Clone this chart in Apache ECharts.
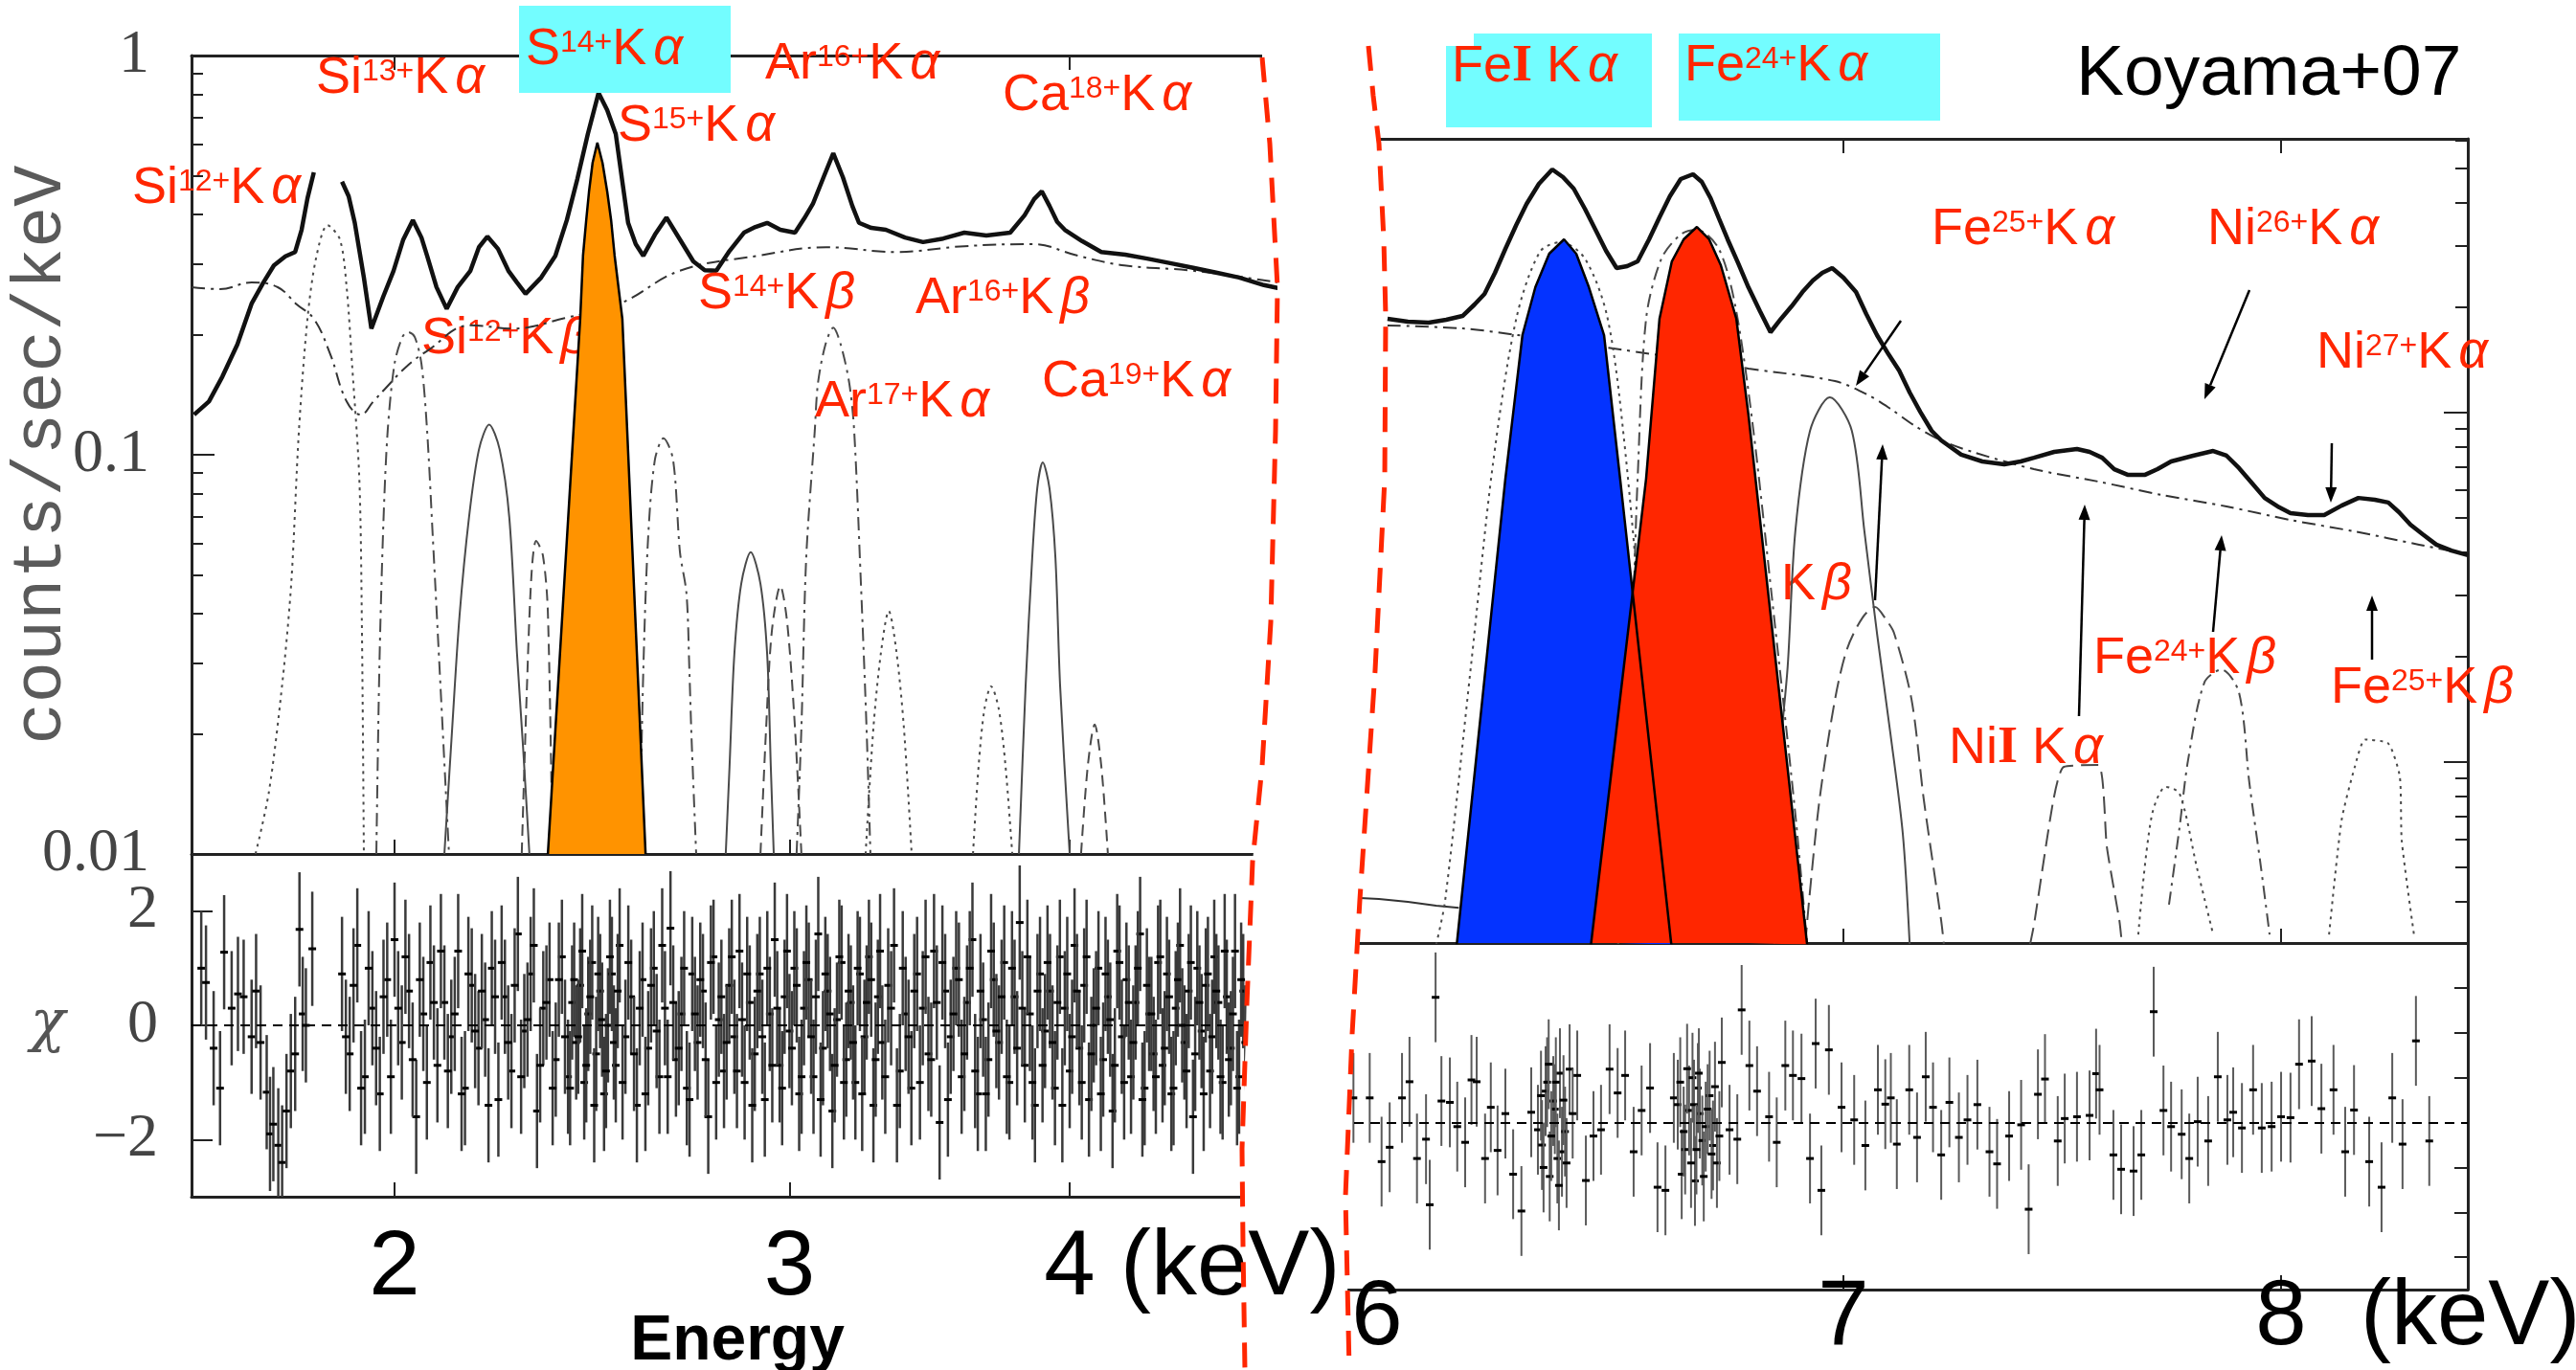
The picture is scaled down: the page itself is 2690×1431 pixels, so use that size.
<!DOCTYPE html>
<html><head><meta charset="utf-8">
<script src="https://cdn.jsdelivr.net/npm/echarts@6/dist/echarts.min.js"></script>
<style>html,body{margin:0;padding:0;background:#fff}#c{width:2690px;height:1431px}</style>
</head><body><div id="c"></div>
<script>
// ---------------- DATA (energy keV, counts/sec/keV) ----------------
const leftXTicks = [2, 3, 4];
const rightXTicks = [7, 8];
const leftYMajor = [0.01, 0.1, 1];
const leftYMinor = [0.02,0.03,0.04,0.05,0.06,0.07,0.08,0.09,0.2,0.3,0.4,0.5,0.6,0.7,0.8,0.9];
const rightYMajor = [0.01, 0.1];
const rightYMinor = [0.004,0.005,0.006,0.007,0.008,0.009,0.02,0.03,0.04,0.05,0.06,0.07,0.08,0.09,0.2,0.3,0.4,0.5,0.6];
const leftResTicks = [-2, 0, 2];
const rightResTicks = [-3, -2, -1, 1, 2, 3];

const leftSpectrum = [[1.628,0.126],[1.653,0.136],[1.676,0.157],[1.702,0.189],[1.727,0.239],[1.748,0.270],[1.767,0.298],[1.788,0.314],[1.806,0.322],[1.818,0.366],[1.829,0.439],[1.841,0.510],[1.868,null],[1.895,0.483],[1.908,0.444],[1.920,0.381],[1.938,0.278],[1.953,0.207],[1.977,0.249],[1.998,0.289],[2.018,0.346],[2.038,0.387],[2.056,0.350],[2.068,0.315],[2.088,0.263],[2.110,0.232],[2.134,0.263],[2.162,0.289],[2.181,0.331],[2.200,0.352],[2.224,0.328],[2.248,0.289],[2.268,0.270],[2.288,0.253],[2.325,0.278],[2.359,0.315],[2.387,0.387],[2.413,0.491],[2.439,0.636],[2.466,0.806],[2.488,0.730],[2.510,0.636],[2.527,0.483],[2.542,0.381],[2.562,0.337],[2.582,0.315],[2.613,0.356],[2.644,0.393],[2.681,0.346],[2.718,0.305],[2.750,0.290],[2.783,0.289],[2.821,0.324],[2.863,0.360],[2.897,0.372],[2.932,0.381],[2.972,0.366],[3.017,0.360],[3.046,0.391],[3.073,0.425],[3.107,0.496],[3.138,0.569],[3.169,0.496],[3.200,0.420],[3.222,0.381],[3.263,0.370],[3.312,0.366],[3.378,0.350],[3.441,0.341],[3.513,0.348],[3.590,0.360],[3.672,0.354],[3.763,0.360],[3.819,0.398],[3.857,0.437],[3.887,0.457],[3.918,0.420],[3.949,0.383],[3.980,0.366],[4.051,0.343],[4.132,0.322],[4.235,0.317],[4.331,0.310],[4.435,0.302],[4.541,0.294],[4.649,0.286],[4.760,0.278],[4.883,0.266],[4.980,0.260]];
const leftContinuum = [[1.624,0.2628],[1.672,0.2599],[1.727,0.2702],[1.774,0.2628],[1.809,0.238],[1.841,0.219],[1.872,0.179],[1.904,0.136],[1.932,0.126],[1.957,0.136],[1.980,0.146],[2.024,0.166],[2.068,0.182],[2.162,0.211],[2.259,0.207],[2.382,0.220],[2.520,0.239],[2.681,0.289],[2.903,0.315],[3.116,0.331],[3.345,0.322],[3.590,0.333],[3.849,0.337],[4.035,0.315],[4.231,0.298],[4.541,0.289],[4.980,0.269]];
const siXIIIKa = [[1.734,0.010],[1.758,0.0143],[1.783,0.0273],[1.799,0.0482],[1.813,0.115],[1.829,0.219],[1.845,0.310],[1.867,0.376],[1.891,0.346],[1.904,0.263],[1.915,0.166],[1.929,0.087],[1.934,0.038],[1.938,0.010]];
const siXIVKa = [[1.963,0.010],[1.969,0.0289],[1.977,0.0661],[1.986,0.115],[2.000,0.169],[2.016,0.197],[2.028,0.203],[2.042,0.197],[2.056,0.169],[2.068,0.115],[2.080,0.0626],[2.097,0.0258],[2.115,0.010]];
const siXIIIKb = [[2.105,0.010],[2.122,0.0207],[2.138,0.0395],[2.159,0.0698],[2.181,0.103],[2.204,0.119],[2.228,0.103],[2.250,0.0698],[2.268,0.0317],[2.282,0.0186],[2.297,0.010]];
const siXIVKb = [[2.279,0.010],[2.291,0.0258],[2.302,0.0502],[2.313,0.0608],[2.329,0.0560],[2.341,0.0402],[2.352,0.010]];
const sXVKa = [[2.341,0.0100],[2.420,0.2190],[2.427,0.3154],[2.435,0.3869],[2.442,0.4565],[2.451,0.5388],[2.463,0.6050],[2.476,0.5388],[2.488,0.4565],[2.498,0.3869],[2.507,0.3154],[2.527,0.2190],[2.588,0.0100]];
const sXVIKa = [[2.572,0.010],[2.582,0.0289],[2.595,0.0626],[2.613,0.0973],[2.636,0.110],[2.662,0.0973],[2.681,0.0570],[2.699,0.0449],[2.707,0.0289],[2.713,0.0196],[2.726,0.010]];
const sXVKb = [[2.810,0.010],[2.821,0.0166],[2.835,0.0317],[2.855,0.0475],[2.883,0.0570],[2.912,0.0475],[2.932,0.0317],[2.943,0.0166],[2.952,0.010]];
const sXVIKb = [[2.912,0.010],[2.929,0.0207],[2.946,0.0360],[2.972,0.0469],[2.993,0.0380],[3.017,0.0207],[3.037,0.010]];
const arXVIIKa = [[3.022,0.010],[3.037,0.0207],[3.052,0.0551],[3.079,0.115],[3.089,0.151],[3.113,0.189],[3.138,0.208],[3.162,0.189],[3.190,0.151],[3.206,0.115],[3.228,0.0482],[3.247,0.0207],[3.260,0.010]];
const arXVIIIKa = [[3.244,0.010],[3.270,0.0207],[3.296,0.0322],[3.322,0.0406],[3.348,0.0322],[3.374,0.0207],[3.401,0.010]];
const arXVIIKb = [[3.622,0.010],[3.643,0.0166],[3.665,0.0231],[3.690,0.0263],[3.719,0.0231],[3.745,0.0166],[3.771,0.010]];
const caXIXKa = [[3.797,0.010],[3.823,0.0263],[3.849,0.0551],[3.869,0.0824],[3.891,0.0957],[3.918,0.0824],[3.942,0.0551],[3.961,0.0263],[4.000,0.010]];
const caXXKa = [[4.047,0.010],[4.075,0.0166],[4.104,0.0211],[4.132,0.0166],[4.160,0.010]];

const rightSpectrum = [[6.091,0.1856],[6.129,0.1821],[6.168,0.1809],[6.201,0.1844],[6.232,0.1891],[6.255,0.2040],[6.274,0.2186],[6.294,0.2512],[6.314,0.2941],[6.335,0.3444],[6.355,0.3956],[6.379,0.4517],[6.405,0.4965],[6.426,0.4721],[6.447,0.4376],[6.469,0.3834],[6.490,0.3337],[6.511,0.2904],[6.532,0.2592],[6.553,0.2625],[6.574,0.2709],[6.597,0.3132],[6.618,0.3622],[6.639,0.4161],[6.661,0.4661],[6.686,0.4811],[6.704,0.4574],[6.722,0.4109],[6.739,0.3599],[6.757,0.3133],[6.779,0.2675],[6.800,0.2285],[6.824,0.1952],[6.846,0.1699],[6.868,0.1856],[6.890,0.2014],[6.913,0.2214],[6.935,0.2388],[6.955,0.2512],[6.976,0.2592],[7.000,0.2434],[7.027,0.2214],[7.049,0.1915],[7.072,0.1667],[7.097,0.1469],[7.120,0.1320],[7.143,0.1142],[7.166,0.1006],[7.191,0.0887],[7.212,0.0833],[7.256,0.0758],[7.303,0.0725],[7.352,0.0711],[7.389,0.0725],[7.419,0.0743],[7.465,0.0772],[7.517,0.0787],[7.546,0.0772],[7.575,0.0743],[7.603,0.0689],[7.634,0.0664],[7.675,0.0664],[7.704,0.0689],[7.736,0.0725],[7.788,0.0753],[7.836,0.0777],[7.868,0.0753],[7.898,0.0694],[7.930,0.0627],[7.960,0.0570],[7.995,0.0536],[8.023,0.0516],[8.066,0.0509],[8.106,0.0509],[8.149,0.0542],[8.191,0.0570],[8.232,0.0563],[8.266,0.0553],[8.293,0.0519],[8.322,0.0478],[8.353,0.0449],[8.388,0.0419],[8.427,0.0403],[8.469,0.0391]];
const rightContinuum = [[6.091,0.1776],[6.232,0.1742],[6.338,0.1667],[6.539,0.1516],[6.670,0.1424],[6.800,0.1337],[6.982,0.1231],[7.051,0.1127],[7.101,0.1026],[7.155,0.0915],[7.212,0.0833],[7.281,0.0772],[7.419,0.0689],[7.566,0.0635],[7.715,0.0581],[7.868,0.0539],[8.023,0.0493],[8.182,0.0457],[8.344,0.0419],[8.469,0.0393]];
const feIKa = [[6.221,0.00300],[6.314,0.0647],[6.347,0.1667],[6.372,0.2285],[6.399,0.2850],[6.428,0.3133],[6.452,0.2850],[6.477,0.2285],[6.507,0.1667],[6.539,0.0647],[6.642,0.00300]];
const feXXVKa = [[6.481,0.00300],[6.591,0.0647],[6.618,0.1856],[6.643,0.2709],[6.667,0.3133],[6.694,0.3400],[6.719,0.3133],[6.743,0.2642],[6.775,0.1856],[6.800,0.0987],[6.923,0.00300]];
const feIKaModel = [[6.182,0.00300],[6.199,0.00401],[6.248,0.0188],[6.290,0.0711],[6.335,0.1856],[6.381,0.2886],[6.422,0.3074],[6.469,0.2761],[6.513,0.1891],[6.545,0.0887],[6.578,0.0251],[6.602,0.00300]];
const feXXVKaModel = [[6.535,0.00300],[6.555,0.00975],[6.566,0.0294],[6.574,0.0647],[6.591,0.1856],[6.622,0.2761],[6.661,0.3233],[6.694,0.3337],[6.739,0.2941],[6.773,0.2014],[6.808,0.0945],[6.848,0.0304],[6.898,0.00711],[6.923,0.00300]];
const feXXVIKa = [[6.854,0.00300],[6.864,0.00969],[6.882,0.0188],[6.898,0.0457],[6.929,0.0887],[6.971,0.1106],[7.018,0.0887],[7.045,0.0457],[7.072,0.0234],[7.101,0.0121],[7.128,0.00623],[7.143,0.00300]];
const feIKb = [[6.919,0.00300],[6.927,0.00401],[6.949,0.00777],[6.982,0.0151],[7.008,0.0211],[7.041,0.0259],[7.068,0.0278],[7.093,0.0254],[7.109,0.0234],[7.147,0.0151],[7.174,0.00777],[7.212,0.00351],[7.218,0.00300]];
const niIKa = [[7.410,0.00300],[7.419,0.00342],[7.463,0.00777],[7.487,0.00969],[7.566,0.00981],[7.586,0.00570],[7.615,0.00351],[7.621,0.00300]];
const niXXVIIKa = [[7.659,0.00321],[7.690,0.00698],[7.724,0.00849],[7.756,0.00812],[7.797,0.00500],[7.836,0.00321]];
const feXXVKb = [[7.731,0.00391],[7.756,0.00651],[7.776,0.0101],[7.815,0.0169],[7.856,0.0184],[7.898,0.0158],[7.923,0.00871],[7.951,0.00500],[7.972,0.00321]];
const feXXVIKb = [[8.118,0.00321],[8.149,0.00681],[8.182,0.00969],[8.208,0.0116],[8.266,0.0113],[8.295,0.0091],[8.300,0.00596],[8.331,0.00321]];
const lowTail = [[6.005,0.00411],[6.075,0.00406],[6.129,0.00398],[6.182,0.00388],[6.225,0.00383]];

// residuals (energy keV, chi)
const leftResiduals = [[1.640,1.0],[1.648,0.75],[1.661,-0.4],[1.672,-1.1],[1.679,1.28],[1.692,0.3],[1.703,0.55],[1.713,0.5],[1.727,-0.2],[1.735,0.6],[1.743,-0.3],[1.754,-1.17],[1.760,-1.9],[1.766,-1.73],[1.775,-2.1],[1.782,-2.4],[1.790,-1.5],[1.798,-0.8],[1.806,-0.5],[1.814,1.68],[1.820,0.2],[1.826,0.0],[1.838,1.34],
[1.895,0.9],[1.91,-0.5],[1.925,1.4],[1.94,-0.9],[1.955,0.3],[1.97,-1.2],[1.985,0.8],[2.00,1.5],[2.015,-0.3],[2.03,0.6],[2.045,-1.6],[2.06,0.2],[2.075,1.1],[2.09,-0.7],[2.105,0.4],[2.12,-0.2],[2.135,1.3],[2.15,-1.1],[2.165,0.7],[2.18,-0.4],[2.195,0.1],[2.21,1.0],[2.225,-1.3],[2.24,0.5],[2.255,-0.8],[2.27,1.6],[2.285,-0.1],[2.30,0.9],[2.315,-1.5],[2.33,0.3],[2.345,0.8],[2.36,-0.6],[2.375,1.2],[2.39,-0.9],[2.40,0.4],[2.41,-0.3],[2.42,0.7],[2.43,-1.0],[2.44,0.2],[2.45,1.1],[2.46,-0.5],[2.47,0.6],[2.48,-1.2],[2.49,0.0],[2.50,0.9],[2.51,-0.7],[2.52,1.4],[2.535,-0.2],[2.55,0.5],[2.565,-1.4],[2.58,0.8],[2.595,-0.4],[2.61,1.0],[2.625,-0.9],[2.64,0.3],[2.655,1.7],[2.67,-0.6],[2.685,0.2],[2.70,-1.1],[2.715,0.9],[2.73,-0.3],[2.745,0.6],[2.76,-1.6],[2.775,1.2],[2.79,0.1],[2.805,-0.8],[2.82,0.7],[2.835,-0.2],[2.85,1.3],[2.865,-1.0],[2.88,0.4],[2.895,-0.5],[2.91,0.9],[2.925,-1.3],[2.94,0.2],[2.955,1.5],[2.97,-0.7],[2.985,0.5],[3.00,-0.1],[3.015,1.0],[3.03,-1.2],[3.045,0.3],[3.06,0.8],[3.075,-0.9],[3.09,1.6],[3.105,-0.4],[3.12,0.6],[3.135,-1.5],[3.15,0.1],[3.165,1.1],[3.18,-0.6],[3.195,0.4],[3.21,-1.0],[3.225,0.9],[3.24,-0.2],[3.255,1.2],[3.27,-1.4],[3.285,0.5],[3.30,-0.3],[3.32,0.7],[3.34,1.4],[3.36,-0.8],[3.38,0.2],[3.40,-1.1],[3.42,0.9],[3.44,0.3],[3.46,-0.5],[3.48,1.3],[3.50,-1.7],[3.52,0.6],[3.54,-0.2],[3.56,1.0],[3.58,-0.9],[3.60,0.4],[3.62,1.5],[3.64,-1.2],[3.66,0.1],[3.68,-0.6],[3.70,0.8],[3.72,-0.3],[3.74,1.1],[3.76,-1.0],[3.78,0.5],[3.80,1.8],[3.82,-0.7],[3.84,0.2],[3.86,-1.4],[3.88,0.9],[3.90,-0.1],[3.92,0.6],[3.94,-1.1],[3.96,1.2],[3.98,0.3],[4.00,-0.8],[4.02,1.4],[4.04,-0.4],[4.06,0.7],[4.08,-1.3],[4.10,0.0],[4.12,1.0],[4.14,-0.6],[4.16,0.5],[4.18,-1.5],[4.20,1.3],[4.22,-0.2],[4.24,0.8],[4.26,-0.9],[4.28,0.4],[4.30,1.6],[4.32,-1.1],[4.34,0.2],[4.36,-0.5],[4.38,1.1],[4.40,-0.7],[4.42,0.9],[4.44,-1.2],[4.46,0.3],[4.48,1.4],[4.50,-0.3],[4.52,0.6],[4.54,-1.6],[4.56,1.0],[4.58,-0.1],[4.60,0.7],[4.62,-0.8],[4.64,1.2],[4.66,0.4],[4.68,-1.0],[4.70,0.5],[4.72,-0.4],[4.74,1.3],[4.76,-0.9],[4.78,0.6],
[1.9025,-0.2],[1.9175,0.7],[1.9325,-1.1],[1.9475,1.0],[1.9625,-0.4],[1.9775,0.5],[1.9925,-0.9],[2.0075,0.3],[2.0225,1.2],[2.0375,-0.6],[2.0525,0.8],[2.0675,-1.0],[2.0825,0.4],[2.0975,1.3],[2.1125,-0.8],[2.1275,0.2],[2.1425,-1.2],[2.1575,0.9],[2.1725,-0.1],[2.1875,0.6],[2.2025,-1.4],[2.2175,0.5],[2.2325,1.1],[2.2475,-0.3],[2.2625,0.7],[2.2775,-0.9],[2.2925,0.1],[2.3075,1.4],[2.3225,-0.7],[2.3375,0.4],[2.3525,-1.1],[2.3675,0.8],[2.3825,-0.2],
[2.395,-1.1],[2.405,0.8],[2.415,-0.2],[2.425,1.3],[2.435,-0.7],[2.445,0.5],[2.455,-1.4],[2.465,0.9],[2.475,0.1],[2.485,-0.8],[2.495,1.2],[2.505,-0.3],[2.515,0.6],[2.5275,-1.0],[2.5425,1.1],[2.5575,-0.5],[2.5725,0.3],[2.5875,-1.2],[2.6025,0.7],[2.6175,-0.1],[2.6325,1.4],[2.6475,-0.9],[2.6625,0.4],[2.6775,-0.4],[2.6925,1.0],[2.7075,-1.3],[2.7225,0.2],[2.7375,0.8],[2.7525,-0.6],[2.7675,1.1],[2.7825,-1.0],[2.7975,0.5],[2.8125,-0.3],[2.8275,1.2],[2.8425,-0.8],[2.8575,0.1],[2.8725,0.9],[2.8875,-1.4],[2.9025,0.6],[2.9175,-0.2],[2.9325,1.0],[2.9475,-0.7],[2.9625,0.3],[2.9775,-1.1],[2.9925,1.3],[3.0075,-0.4],[3.0225,0.7],[3.0375,-0.9],[3.0525,1.1],[3.0675,-0.2],[3.0825,0.5],[3.0975,-1.3],[3.1125,0.9],[3.1275,0.2],[3.1425,-0.7],[3.1575,1.2],[3.1725,-1.0],[3.1875,0.6],[3.2025,-0.3],[3.2175,1.0],[3.2325,-1.2],[3.2475,0.4],[3.2625,0.8],[3.2775,-0.6],[3.2925,1.3],[3.31,-0.9],[3.33,0.3],[3.35,-1.4],[3.37,1.0],[3.39,-0.2],[3.41,0.6],[3.43,-1.0],[3.45,1.2],[3.47,-0.6],[3.49,0.4],[3.51,1.1],[3.53,-1.3],[3.55,0.2],[3.57,0.8],[3.59,-0.5],[3.61,1.0],[3.63,-0.8],[3.65,0.6],[3.67,-1.2],[3.69,1.3],[3.71,-0.1],[3.73,0.5],[3.75,-0.9],[3.77,1.0],[3.79,-0.4],[3.81,0.3],[3.83,1.2],[3.85,-1.0],[3.87,0.6],[3.89,-0.7],[3.91,1.1],[3.93,-0.3],[3.95,0.4],[3.97,-1.4],[3.99,0.9],[4.01,-0.2],[4.03,0.6],[4.05,-1.0],[4.07,1.2],[4.09,-0.5],[4.11,0.3],[4.13,-1.2],[4.15,0.9],[4.17,0.1],[4.19,-0.7],[4.21,1.1],[4.23,-1.0],[4.25,0.4],[4.27,-0.3],[4.29,1.0],[4.31,-1.3],[4.33,0.7],[4.35,0.2],[4.37,-0.9],[4.39,1.2],[4.41,-0.4],[4.43,0.5],[4.45,-1.1],[4.47,0.8],[4.49,0.0],[4.51,-0.8],[4.53,1.1],[4.55,-0.5],[4.57,0.4],[4.59,-1.2],[4.61,0.9],[4.63,-0.2],[4.65,0.6],[4.67,-0.9],[4.69,1.3],[4.71,-0.6],[4.73,0.2],[4.75,-1.1],[4.77,0.8],[4.79,-0.3]];
const rightResiduals = [[6.028,0.55],[6.058,0.55],[6.080,-0.87],[6.095,-0.55],[6.118,0.55],[6.132,0.91],[6.146,-0.80],[6.163,-0.37],[6.170,-1.83],[6.181,2.79],[6.192,0.48],[6.208,0.45],[6.222,-0.09],[6.237,-0.44],[6.249,0.95],[6.259,0.91],[6.275,-0.80],[6.286,0.34],[6.299,-0.62],[6.314,0.20],[6.329,-1.15],[6.345,-1.97],[6.364,0.23],[6.377,-0.16],[6.385,-0.5],[6.392,0.70],[6.395,0.9],[6.400,-1.2],[6.407,0.48],[6.410,0.3],[6.415,-0.8],[6.420,1.1],[6.424,-0.65],[6.430,-0.2],[6.439,1.19],[6.454,1.05],[6.471,-1.29],[6.486,-0.30],[6.501,-0.16],[6.518,1.19],[6.534,0.66],[6.549,1.05],[6.566,-0.65],[6.582,0.27],[6.599,0.77],[6.614,-1.44],[6.630,-1.51],[6.647,0.55],[6.655,0.4],[6.663,-1.15],[6.670,-0.6],[6.678,0.27],[6.685,1.0],[6.690,-1.3],[6.696,0.77],[6.700,0.2],[6.705,-0.4],[6.712,-0.09],[6.720,0.6],[6.727,-0.51],[6.735,-0.9],[6.745,1.34],[6.761,-0.16],[6.777,-0.37],[6.786,2.51],[6.802,1.27],[6.818,0.70],[6.843,0.13],[6.859,-0.44],[6.877,1.27],[6.893,1.05],[6.911,0.98],[6.929,-0.80],[6.941,1.76],[6.953,-1.51],[6.969,1.62],[6.996,0.34],[7.023,0.06],[7.047,-0.51],[7.074,0.73],[7.090,0.41],[7.102,0.55],[7.115,-0.48],[7.142,0.73],[7.159,-0.33],[7.178,1.02],[7.194,0.34],[7.212,-0.72],[7.230,0.45],[7.251,-0.33],[7.270,0.06],[7.292,0.40],[7.319,-0.65],[7.336,-0.92],[7.363,-0.30],[7.390,-0.05],[7.407,-1.93],[7.428,0.63],[7.444,0.97],[7.473,-0.41],[7.489,0.09],[7.517,0.13],[7.546,0.16],[7.561,1.09],[7.569,0.73],[7.601,-0.72],[7.619,-1.04],[7.648,-1.08],[7.666,-0.72],[7.695,2.47],[7.718,0.27],[7.736,-0.09],[7.761,-0.26],[7.779,-0.80],[7.799,0.02],[7.824,-0.41],[7.847,1.02],[7.870,0.06],[7.884,0.23],[7.905,-0.12],[7.932,0.73],[7.953,-0.12],[7.977,-0.09],[8.000,0.13],[8.023,0.11],[8.044,1.30],[8.075,1.37],[8.099,0.31],[8.129,0.73],[8.158,-0.65],[8.180,0.28],[8.218,-0.87],[8.249,-1.44],[8.276,0.55],[8.302,-0.48],[8.336,1.82],[8.370,-0.41],
[6.383,0.6],[6.388,-1.0],[6.398,1.3],[6.403,-0.3],[6.412,0.9],[6.418,-1.4],[6.427,0.5],[6.433,-0.9],[6.445,0.2],[6.660,0.9],[6.667,-0.2],[6.674,1.2],[6.682,-0.9],[6.688,0.4],[6.693,-0.6],[6.698,1.1],[6.708,-1.2],[6.716,0.3],[6.724,-0.7],[6.731,0.8],[6.740,-0.3]];

// ---------------- helpers ----------------
const LOG = Math.log10;
const tr = arr => arr.map(p => [LOG(p[0]), p[1] == null ? '-' : LOG(p[1])]);
const trRes = arr => arr.map(p => [LOG(p[0]), p[1]]);
const AX = '#222';
const RED = '#ff2600';

// axis ranges (log10 space)
const LXMIN = 0.21051, LXMAX = 0.69727;
const RXMIN = 0.775944, RXMAX = 0.927829;
const RYMIN = -2.5178, RYMAX = -0.2164;

function xAx(grid, pos, min, max, ticks, extra) {
  return Object.assign({
    gridIndex: grid, type: 'value', position: pos, min, max,
    axisLine: { show: true, onZero: false, lineStyle: { color: AX, width: 3 } },
    axisTick: { show: true, inside: true, length: 15, customValues: ticks.map(LOG), lineStyle: { color: AX, width: 2 } },
    axisLabel: { show: false }, splitLine: { show: false }, nameMoveOverlap: false
  }, extra || {});
}
function yAx(grid, pos, min, max, ticks, len, showLine, extra) {
  return Object.assign({
    gridIndex: grid, type: 'value', position: pos, min, max,
    axisLine: { show: showLine, onZero: false, lineStyle: { color: AX, width: 3 } },
    axisTick: { show: true, inside: true, length: len, customValues: ticks, lineStyle: { color: AX, width: 2 } },
    axisLabel: { show: false }, splitLine: { show: false }, nameMoveOverlap: false
  }, extra || {});
}
function ln(data, xi, yi, color, width, type, smooth, z) {
  return { type: 'line', data: tr(data), xAxisIndex: xi, yAxisIndex: yi, symbol: 'none', showSymbol: false,
    smooth: smooth || false, connectNulls: false, silent: true, z: z || 2, clip: true,
    lineStyle: { color, width, type } };
}
function fill(data, xi, yi, color) {
  return { type: 'line', data: tr(data), xAxisIndex: xi, yAxisIndex: yi, symbol: 'none', showSymbol: false,
    smooth: false, silent: true, z: 4, clip: true,
    lineStyle: { color: '#000', width: 2.5 }, areaStyle: { color, opacity: 1, origin: 'start' } };
}
function makeErrBar(barColor, barWidth) {
  return function (params, api) {
    const x = api.value(0), y = api.value(1);
    const a = api.coord([x, y + 1]), b = api.coord([x, y - 1]), c = api.coord([x, y]);
    return { type: 'group', children: [
      { type: 'line', shape: { x1: a[0], y1: a[1], x2: b[0], y2: b[1] }, style: { stroke: barColor, lineWidth: barWidth } },
      { type: 'line', shape: { x1: c[0] - 4, y1: c[1], x2: c[0] + 4, y2: c[1] }, style: { stroke: '#000', lineWidth: 3 } }
    ]};
  };
}
const zeroLine = { silent: true, symbol: 'none', label: { show: false },
  lineStyle: { color: '#000', width: 2, type: [10, 7] }, data: [{ yAxis: 0 }] };

const DOT = [3, 5], DASH = [12, 7], DASHDOT = [14, 6, 3, 6], LDASH = [18, 8];
const CMP = '#4a4a4a';

// ---------------- graphic annotations ----------------
const RICH = {
  s: { fontSize: 32, fontFamily: 'Liberation Sans', fill: RED, verticalAlign: 'top', padding: [8, 0, 0, 0] },
  g: { fontSize: 54, fontFamily: 'Liberation Sans', fontStyle: 'italic', fill: RED, padding: [0, 0, 0, 7] },
  r: { fontSize: 54, fontFamily: 'Liberation Serif', fontWeight: 'bold', fill: RED }
};
function redLabel(text, x, y, z) {
  return { type: 'text', x, y, z: z == null ? 60 : z, silent: true,
    style: { text, fill: RED, fontSize: 54, fontFamily: 'Liberation Sans', lineHeight: 62,
      align: 'left', verticalAlign: 'top', textAlign: 'left', textVerticalAlign: 'top', rich: RICH } };
}
function blackText(text, x, y, size, align, extra) {
  return { type: 'text', x, y, z: 60, silent: true,
    style: Object.assign({ text, fill: '#000', fontSize: size, fontFamily: 'Liberation Sans', lineHeight: size,
      align: align || 'left', verticalAlign: 'top', textAlign: align || 'left', textVerticalAlign: 'top' }, extra || {}) };
}
function arrow(x1, y1, x2, y2) {
  const dx = x2 - x1, dy = y2 - y1, len = Math.hypot(dx, dy), ux = dx / len, uy = dy / len;
  const hl = 16, hw = 6, bx = x2 - ux * hl, by = y2 - uy * hl;
  return [
    { type: 'line', z: 60, silent: true, shape: { x1, y1, x2: bx, y2: by }, style: { stroke: '#000', lineWidth: 2.5 } },
    { type: 'polygon', z: 60, silent: true, shape: { points: [[x2, y2], [bx - uy * hw, by + ux * hw], [bx + uy * hw, by - ux * hw]] }, style: { fill: '#000' } }
  ];
}
const leftCut = [[1318,60],[1326,150],[1334,300],[1332,450],[1327,650],[1318,800],[1308,900],[1302,1050],[1297,1200],[1298,1300],[1300,1431]];
const rightCut = [[1429,48],[1434,100],[1440,150],[1445,250],[1447,330],[1446,500],[1436,700],[1420,940],[1412,1080],[1405,1250],[1409,1431]];
const maskPts = [[1318,0]].concat(leftCut, rightCut.slice().reverse(), [[1429,0]]);

const graphics = [
  { type: 'polygon', z: 50, silent: true, shape: { points: maskPts }, style: { fill: '#fff' } },
  { type: 'rect', z: 55, silent: true, shape: { x: 542, y: 6, width: 221, height: 91 }, style: { fill: '#73fdff' } },
  { type: 'rect', z: 55, silent: true, shape: { x: 1539, y: 35, width: 186, height: 98 }, style: { fill: '#73fdff' } },
  { type: 'rect', z: 55, silent: true, shape: { x: 1510, y: 48, width: 40, height: 85 }, style: { fill: '#73fdff' } },
  { type: 'rect', z: 55, silent: true, shape: { x: 1753, y: 35, width: 273, height: 91 }, style: { fill: '#73fdff' } },
  redLabel('Si{s|12+}K{g|α}', 138, 166),
  redLabel('Si{s|13+}K{g|α}', 330, 51),
  redLabel('S{s|14+}K{g|α}', 549, 21),
  redLabel('S{s|15+}K{g|α}', 645, 101),
  redLabel('Ar{s|16+}K{g|α}', 799, 36),
  redLabel('Ca{s|18+}K{g|α}', 1047, 69),
  redLabel('Si{s|12+}K{g|β}', 440, 323, 1),
  redLabel('S{s|14+}K{g|β}', 729, 276),
  redLabel('Ar{s|16+}K{g|β}', 956, 281),
  redLabel('Ar{s|17+}K{g|α}', 851, 389),
  redLabel('Ca{s|19+}K{g|α}', 1088, 368),
  redLabel('Fe{s|25+}K{g|α}', 2017, 209),
  redLabel('Ni{s|26+}K{g|α}', 2305, 209),
  redLabel('Ni{s|27+}K{g|α}', 2419, 338),
  redLabel('Fe{r|I} K{g|β}', 1761, 580, 1),
  redLabel('Ni{r|I} K{g|α}', 2035, 751),
  redLabel('Fe{s|24+}K{g|β}', 2186, 657),
  redLabel('Fe{s|25+}K{g|β}', 2434, 688),
  redLabel('Fe{r|I} K{g|α}', 1516, 39),
  redLabel('Fe{s|24+}K{g|α}', 1759, 38),
  blackText('Koyama+07', 2168, 41, 75),
  blackText('(keV)', 1170, 1278, 96),
  blackText('(keV)', 2465, 1330, 96),
  blackText('6', 1438, 1330, 96, 'center')
].concat(
  arrow(1985, 335, 1938, 403),
  arrow(1958, 627, 1966, 464),
  arrow(2349, 303, 2302, 417),
  arrow(2435, 463, 2434, 525),
  arrow(2171, 748, 2177, 527),
  arrow(2311, 660, 2320, 559),
  arrow(2477, 689, 2477, 622),
  [
    { type: 'polyline', z: 70, silent: true, shape: { points: leftCut }, style: { stroke: RED, lineWidth: 5, lineDash: [26, 16], fill: null } },
    { type: 'polyline', z: 70, silent: true, shape: { points: rightCut }, style: { stroke: RED, lineWidth: 5, lineDash: [26, 16], fill: null } }
  ]
);

// ---------------- option ----------------
const option = {
  animation: false,
  backgroundColor: '#fff',
  grid: [
    { left: 200, top: 58, width: 1140, height: 834, outerBoundsMode: 'none', containLabel: false },
    { left: 200, top: 892, width: 1140, height: 358, outerBoundsMode: 'none', containLabel: false },
    { left: 1380, top: 145, width: 1197, height: 840, outerBoundsMode: 'none', containLabel: false },
    { left: 1380, top: 985, width: 1197, height: 362, outerBoundsMode: 'none', containLabel: false }
  ],
  xAxis: [
    xAx(0, 'bottom', LXMIN, LXMAX, leftXTicks),
    xAx(0, 'top', LXMIN, LXMAX, leftXTicks),
    xAx(1, 'bottom', LXMIN, LXMAX, leftXTicks, {
      axisLabel: { show: true, customValues: leftXTicks.map(LOG), formatter: v => String(Math.round(Math.pow(10, v))),
        fontFamily: 'Liberation Sans', fontSize: 96, color: '#000', lineHeight: 96, verticalAlign: 'middle', margin: 76,
        showMinLabel: true, showMaxLabel: true },
      name: 'Energy', nameLocation: 'middle', nameGap: 119,
      nameTextStyle: { fontFamily: 'Liberation Sans', fontWeight: 'bold', fontSize: 66, lineHeight: 66, color: '#000', verticalAlign: 'top' }
    }),
    xAx(2, 'bottom', RXMIN, RXMAX, rightXTicks),
    xAx(2, 'top', RXMIN, RXMAX, rightXTicks),
    xAx(3, 'bottom', RXMIN, RXMAX, rightXTicks, {
      axisLabel: { show: true, customValues: rightXTicks.map(LOG), formatter: v => String(Math.round(Math.pow(10, v))),
        fontFamily: 'Liberation Sans', fontSize: 96, color: '#000', lineHeight: 96, verticalAlign: 'middle', margin: 31,
        showMinLabel: true, showMaxLabel: true }
    })
  ],
  yAxis: [
    yAx(0, 'left', -2, 0, leftYMajor.map(LOG), 24, true, {
      axisLabel: { show: true, customValues: leftYMajor.map(LOG), formatter: v => { const r = Math.round(v); return r === 0 ? '1' : (r === -1 ? '0.1' : '0.01'); },
        fontFamily: 'Liberation Serif', fontSize: 64, color: '#444', margin: 44, showMinLabel: true, showMaxLabel: true },
      name: 'counts/sec/keV', nameLocation: 'middle', nameGap: 120, nameRotate: 90,
      nameTextStyle: { fontFamily: 'Liberation Mono', fontSize: 72, color: '#5a5a5a' }
    }),
    yAx(0, 'left', -2, 0, leftYMinor.map(LOG), 12, false),
    yAx(1, 'left', -3, 3, leftResTicks, 22, true, {
      axisLabel: { show: true, customValues: leftResTicks, formatter: v => (v < 0 ? '\u2212' + Math.abs(v) : String(v)),
        fontFamily: 'Liberation Serif', fontSize: 64, color: '#444', margin: 35, showMinLabel: true, showMaxLabel: true },
      name: 'χ', nameLocation: 'middle', nameGap: 132, nameRotate: 0,
      nameTextStyle: { fontFamily: 'DejaVu Serif', fontStyle: 'italic', fontSize: 60, color: '#555' }
    }),
    yAx(2, 'right', RYMIN, RYMAX, rightYMajor.map(LOG), 25, true),
    yAx(2, 'right', RYMIN, RYMAX, rightYMinor.map(LOG), 13, false),
    yAx(3, 'right', -3.72, 4, rightResTicks, 14, true)
  ],
  series: [
    // left upper
    ln(leftContinuum, 0, 0, '#333', 2, DASHDOT, 0.4),
    ln(siXIIIKa, 0, 0, CMP, 2, DOT, 0.3),
    ln(siXIVKa, 0, 0, CMP, 2, DASHDOT, 0.3),
    ln(siXIIIKb, 0, 0, CMP, 2, 'solid', 0.3),
    ln(siXIVKb, 0, 0, CMP, 2, DASH, 0.3),
    ln(sXVIKa, 0, 0, CMP, 2, DASHDOT, 0.3),
    ln(sXVKb, 0, 0, CMP, 2, 'solid', 0.3),
    ln(sXVIKb, 0, 0, CMP, 2, DASH, 0.3),
    ln(arXVIIKa, 0, 0, CMP, 2, DASHDOT, 0.3),
    ln(arXVIIIKa, 0, 0, CMP, 2, DOT, 0.3),
    ln(arXVIIKb, 0, 0, CMP, 2, DOT, 0.3),
    ln(caXIXKa, 0, 0, CMP, 2, 'solid', 0.3),
    ln(caXXKa, 0, 0, CMP, 2, DASH, 0.3),
    fill(sXVKa, 0, 0, '#ff9300'),
    ln(leftSpectrum, 0, 0, '#111', 4.5, 'solid', false, 3),
    // left residuals
    { type: 'custom', xAxisIndex: 2, yAxisIndex: 2, data: trRes(leftResiduals), renderItem: makeErrBar('#3a3a3a', 2.5), clip: true, silent: true, z: 2, markLine: zeroLine },
    // right upper
    ln(lowTail, 3, 3, '#333', 2, 'solid'),
    ln(rightContinuum, 3, 3, '#333', 2, DASHDOT, 0.3),
    ln(feIKaModel, 3, 3, CMP, 2, DOT, 0.3),
    ln(feXXVKaModel, 3, 3, CMP, 2, DASHDOT, 0.3),
    ln(feXXVIKa, 3, 3, CMP, 2, 'solid', 0.3),
    ln(feIKb, 3, 3, CMP, 2, LDASH, 0.3),
    ln(niIKa, 3, 3, CMP, 2, LDASH, 0.2),
    ln(niXXVIIKa, 3, 3, CMP, 2, DOT, 0.3),
    ln(feXXVKb, 3, 3, CMP, 2, DASHDOT, 0.3),
    ln(feXXVIKb, 3, 3, CMP, 2, DOT, 0.2),
    fill(feIKa, 3, 3, '#0433ff'),
    fill(feXXVKa, 3, 3, '#ff2600'),
    ln(rightSpectrum, 3, 3, '#111', 4.5, 'solid', false, 3),
    // right residuals
    { type: 'custom', xAxisIndex: 5, yAxisIndex: 5, data: trRes(rightResiduals), renderItem: makeErrBar('#5a5a5a', 2), clip: true, silent: true, z: 2, markLine: zeroLine }
  ],
  graphic: { elements: graphics }
};

const chart = echarts.init(document.getElementById('c'), null, { renderer: 'canvas', width: 2690, height: 1431 });
chart.setOption(option);
</script>
</body></html>
